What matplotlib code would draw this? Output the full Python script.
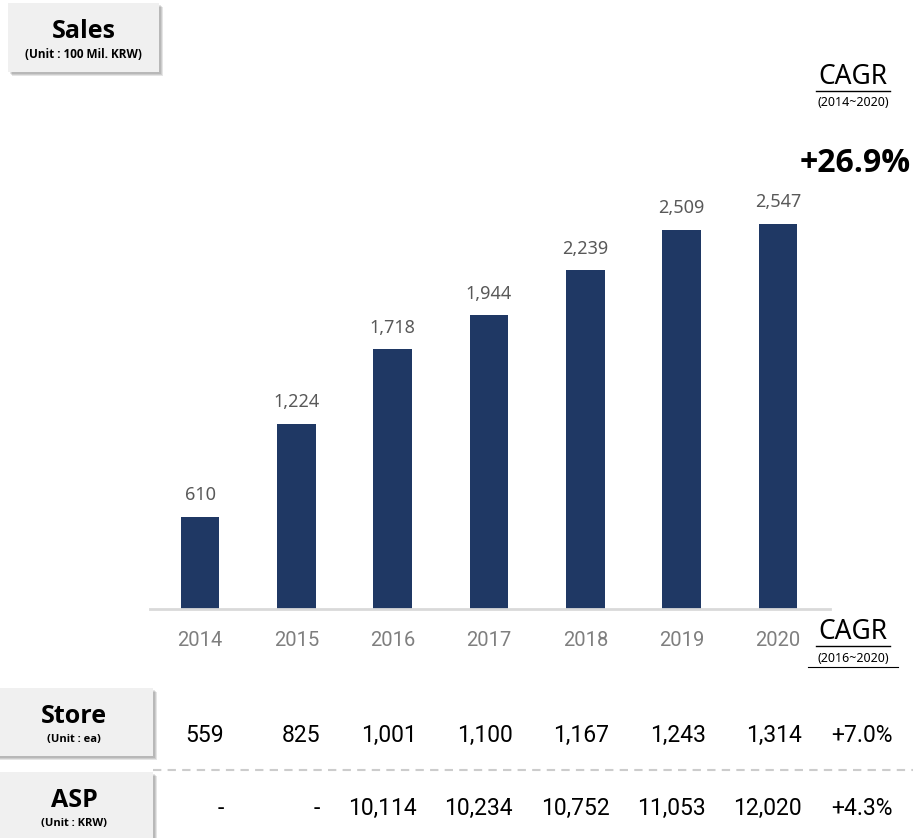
import matplotlib
matplotlib.use("Agg")
import matplotlib.pyplot as plt
from matplotlib.patches import Rectangle
from matplotlib.transforms import blended_transform_factory

years = ["2014", "2015", "2016", "2017", "2018", "2019", "2020"]
sales = [610, 1224, 1718, 1944, 2239, 2509, 2547]
stores = ["559", "825", "1,001", "1,100", "1,167", "1,243", "1,314"]
asp = ["-", "-", "10,114", "10,234", "10,752", "11,053", "12,020"]
sales_cagr = "+26.9%"
store_cagr = "+7.0%"
asp_cagr = "+4.3%"

W, H = 913, 838
NAVY = "#1f3864"
LABEL_GRAY = "#595959"
YEAR_GRAY = "#7f7f7f"
BOX_FILL = "#f0f0f0"
SANS = ["Noto Sans", "DejaVu Sans"]
BOLD = ["Open Sans", "DejaVu Sans"]
NARROW = ["Roboto", "Liberation Sans", "DejaVu Sans"]

fig = plt.figure(figsize=(W / 100, H / 100), dpi=100)
fig.patch.set_facecolor("white")

# overlay in pixel coordinates for boxes and headers
over = fig.add_axes([0, 0, 1, 1])
over.set_xlim(0, W)
over.set_ylim(H, 0)
over.axis("off")

# --- bar chart
x0_px, x1_px, base_px, top_px = 150, 830, 609, 150
ax = fig.add_axes([x0_px / W, (H - base_px) / H, (x1_px - x0_px) / W, (base_px - top_px) / H])
step = 96.33
ax.set_xlim(-(200 - x0_px) / step, (x1_px - 200) / step)
ax.set_ylim(0, (base_px - top_px) / 0.1512)
ax.patch.set_alpha(0)
idx = list(range(len(years)))
ax.bar(idx, sales, width=0.4, color=NAVY)
for i, v in zip(idx, sales):
    ax.annotate(f"{v:,}", (i, v), xytext=(0, 9), textcoords="offset points",
                ha="center", va="bottom", fontsize=13, color=LABEL_GRAY, family=SANS)
for s in ("top", "left", "right"):
    ax.spines[s].set_visible(False)
ax.spines["bottom"].set_color("#d9d9d9")
ax.spines["bottom"].set_linewidth(2)
ax.set_yticks([])
ax.set_xticks(idx)
ax.set_xticklabels(years, fontsize=14.5, color=YEAR_GRAY, family=NARROW)
ax.tick_params(axis="x", length=0, pad=16)


def label_box(x, y, w, h, title, unit, tsize, usize):
    for k in range(3):
        over.add_patch(Rectangle((x + 2 + k, y + 2 + k), w, h, facecolor="#000000",
                                 alpha=0.10, edgecolor="none", zorder=1))
    over.add_patch(Rectangle((x, y), w, h, facecolor=BOX_FILL, edgecolor="none", zorder=2))
    over.text(x + w / 2, y + 28, title, ha="center", va="center", fontsize=tsize,
              fontweight="bold", family=BOLD, zorder=3)
    over.text(x + w / 2, y + 51, unit, ha="center", va="center", fontsize=usize,
              fontweight="bold", family=BOLD, zorder=3)


label_box(8, 3, 151, 69, "Sales", "(Unit : 100 Mil. KRW)", 18, 8.5)
label_box(-5, 688, 158, 68, "Store", "(Unit : ea)", 18, 8)
label_box(-5, 772, 158, 80, "ASP", "(Unit : KRW)", 18, 8)


def cagr_head(xc, y, period, underline_period):
    over.text(xc, y, "CAGR", ha="center", va="center", fontsize=19, family=SANS)
    over.plot([xc - 37, xc + 37], [y + 14, y + 14], color="black", lw=1)
    over.text(xc, y + 26, period, ha="center", va="center", fontsize=9, family=SANS)
    if underline_period:
        over.plot([xc - 45, xc + 45], [y + 35, y + 35], color="black", lw=0.8)


cagr_head(853, 77, "(2014~2020)", False)
cagr_head(853, 632, "(2016~2020)", True)
over.text(911, 164, sales_cagr, ha="right", va="center", fontsize=23,
          fontweight="bold", family=BOLD)

# --- table rows, right-aligned under each year column
tr = blended_transform_factory(ax.transData, over.transData)
off = 24 / step
for i, (s, a) in enumerate(zip(stores, asp)):
    ax.text(i + off, 735, s, transform=tr, ha="right", va="center", fontsize=16.5,
            family=NARROW, clip_on=False)
    ax.text(i + off, 808, a, transform=tr, ha="right", va="center", fontsize=16.5,
            family=NARROW, clip_on=False)
over.text(893, 735, store_cagr, ha="right", va="center", fontsize=16.5, family=NARROW)
over.text(893, 808, asp_cagr, ha="right", va="center", fontsize=16.5, family=NARROW)
over.plot([153, W], [770, 770], color="#cccccc", lw=1.5, ls=(0, (4, 3)))

fig.savefig("out.png", dpi=100, facecolor="white")
